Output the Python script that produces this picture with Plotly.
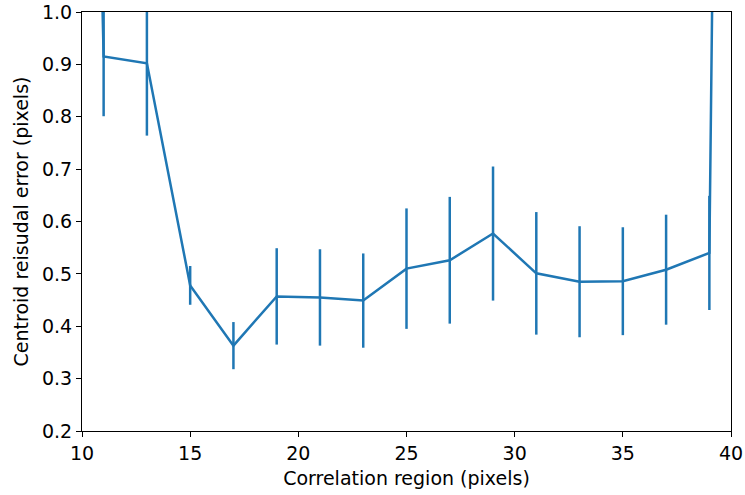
import plotly.graph_objects as go

# Data (x=9 and x=41 lie outside the visible range)
region_px = [9, 11, 13, 15, 17, 19, 21, 23, 25, 27, 29, 31, 33, 35, 37, 39, 41]
resid_err = [4.5, 0.915, 0.902, 0.478, 0.363, 0.457, 0.455, 0.449, 0.510, 0.526,
             0.577, 0.501, 0.485, 0.486, 0.508, 0.540, 7.9]
resid_std = [0.5, 0.114, 0.138, 0.037, 0.045, 0.092, 0.092, 0.090, 0.115, 0.121,
             0.128, 0.117, 0.106, 0.103, 0.105, 0.109, 0.5]

x_ticks = [10, 15, 20, 25, 30, 35, 40]
y_ticks = [0.2, 0.3, 0.4, 0.5, 0.6, 0.7, 0.8, 0.9, 1.0]

color = "#1f77b4"
font = dict(family="DejaVu Sans", size=19, color="black")

fig = go.Figure()
fig.add_trace(go.Scatter(
    x=region_px, y=resid_err, mode="lines",
    line=dict(color=color, width=2.5),
    error_y=dict(type="data", array=resid_std, visible=True,
                 color=color, thickness=2.5, width=0),
    showlegend=False,
))

axis_common = dict(showline=True, mirror=True, linecolor="black", linewidth=1,
                   ticks="outside", ticklen=5, tickwidth=1, tickcolor="black",
                   showgrid=False, zeroline=False, tickfont=font, automargin=False,
                   ticklabeloverflow="allow")

fig.update_layout(
    width=745, height=495,
    margin=dict(l=82, r=14, t=12, b=64),
    paper_bgcolor="white", plot_bgcolor="white",
    font=font,
    xaxis=dict(range=[10, 40], tickvals=x_ticks, ticktext=[str(v) for v in x_ticks],
               title=dict(text="Correlation region (pixels)", font=font, standoff=8),
               **axis_common),
    yaxis=dict(range=[0.2, 1.0], tickvals=y_ticks, ticktext=[f"{v:.1f}" for v in y_ticks],
               title=dict(text="Centroid reisudal error (pixels)", font=font, standoff=8),
               **axis_common),
)

fig.write_html("out.html",
               config={"displayModeBar": False},
               post_script="document.body.style.margin='0';document.body.style.overflow='hidden';")
